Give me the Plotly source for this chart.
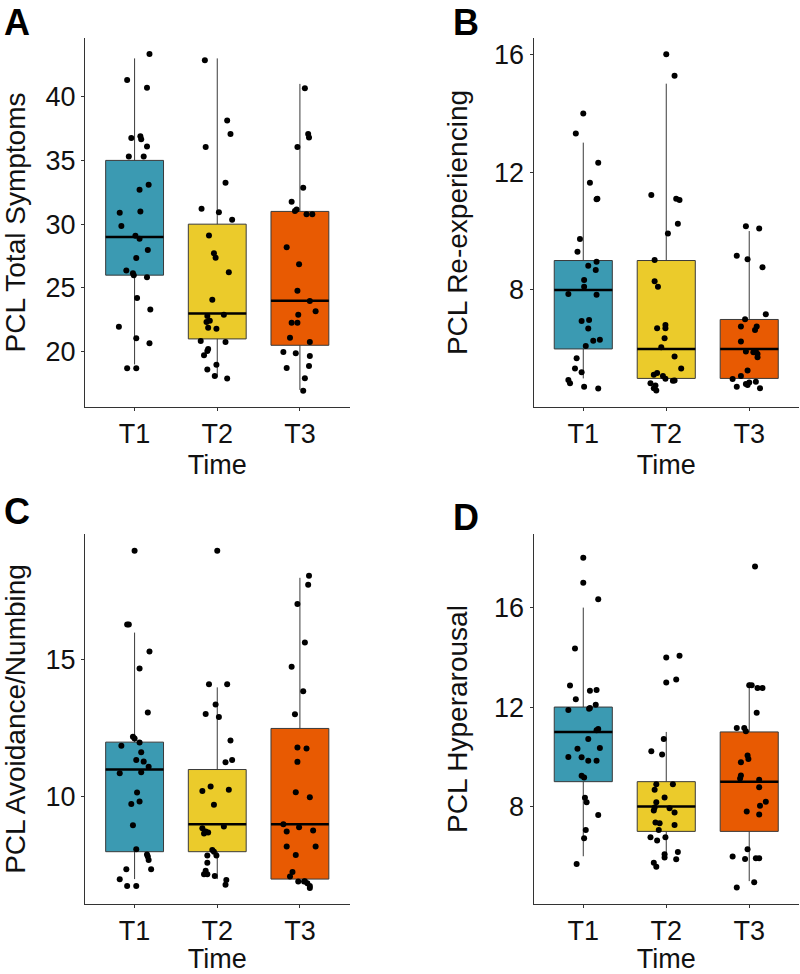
import plotly.graph_objects as go
from plotly.subplots import make_subplots

times = ['T1', 'T2', 'T3']
fills = ['#3B9AB2', '#EBCB2B', '#E85A02']

# panel A - PCL Total Symptoms
a_t1 = [43.35, 41.3, 40.7, 36.76, 36.9, 36.65, 36.1, 35.3, 35.3, 33.1, 32.7, 30.9, 31.0, 29.86, 29.1, 28.86,
        27.97, 27.35, 26.36, 26.14, 26.0, 25.83, 24.2, 23.3, 21.96, 21.05, 20.65, 18.7, 18.7]
a_t1_dx = [0.18, -0.09, 0.15, -0.04, 0.07, 0.08, 0.15, -0.07, 0.11, 0.17, 0.06, -0.18, 0.07, -0.16, 0.01, 0.06,
           0.16, 0.02, -0.10, -0.02, -0.01, 0.15, 0.03, 0.19, -0.19, 0.02, 0.18, -0.09, 0.02]
a_t2 = [42.85, 38.12, 37.07, 36.05, 33.25, 31.2, 30.93, 30.35, 29.12, 27.71, 27.37, 26.22, 24.08, 22.8, 22.43,
        22.33, 22.9, 21.88, 21.8, 20.84, 20.76, 20.2, 19.71, 20.05, 18.98, 18.6, 18.1, 17.9]
a_t2_dx = [-0.15, 0.12, 0.16, -0.14, 0.10, -0.19, 0.02, 0.18, -0.10, -0.04, -0.02, 0.14, -0.06, -0.12, -0.09,
           -0.13, 0.08, -0.11, -0.01, -0.20, 0.10, -0.11, -0.16, -0.12, -0.01, -0.12, -0.03, 0.12]
a_t3 = [40.65, 37.07, 36.8, 36.05, 32.86, 31.76, 31.03, 31.14, 30.77, 30.77, 28.18, 26.85, 24.78, 23.97, 23.16,
        22.9, 22.27, 22.27, 21.1, 20.76, 19.97, 19.87, 19.66, 18.72, 18.88, 17.91, 16.94]
a_t3_dx = [0.06, 0.10, 0.11, -0.03, 0.04, -0.10, -0.06, -0.04, 0.08, 0.15, -0.16, -0.01, -0.03, 0.12, 0.19,
           -0.02, -0.10, -0.03, -0.12, 0.12, -0.20, -0.05, 0.12, -0.16, 0.11, 0.06, 0.04]
a_q1 = [26, 21, 20.5]
a_med = [29, 23, 24]
a_q3 = [35, 30, 31]
a_lo = [19, 18, 17]
a_hi = [43, 43, 41]

# panel B - PCL Re-experiencing
b_t1 = [13.99, 13.31, 12.32, 11.64, 11.08, 11.1, 9.73, 9.3, 8.96, 8.82, 8.68, 8.34, 8.11, 7.86, 7.84, 6.95,
        6.98, 6.69, 6.28, 6.31, 6.1, 5.68, 5.34, 5.21, 4.95, 4.84, 4.72, 4.66]
b_t1_dx = [0.0, -0.09, 0.18, 0.08, 0.16, 0.17, -0.04, -0.07, 0.16, 0.06, 0.15, 0.01, 0.01, -0.18, 0.16, -0.02,
           0.07, 0.06, 0.12, 0.20, 0.03, -0.08, -0.10, -0.02, -0.18, -0.16, 0.01, 0.18]
b_t2 = [16.0, 15.27, 11.22, 11.1, 11.05, 10.25, 9.92, 9.02, 8.3, 8.11, 6.81, 6.7, 6.7, 6.36, 6.06, 5.74, 5.34,
        5.18, 5.12, 5.08, 4.99, 4.93, 4.92, 4.84, 4.67, 4.59, 4.76]
b_t2_dx = [0.0, 0.10, -0.18, 0.12, 0.16, 0.14, 0.02, -0.14, -0.14, -0.10, -0.01, -0.11, -0.01, -0.02, -0.06,
           0.10, 0.18, -0.11, -0.15, -0.04, -0.01, 0.10, 0.08, -0.19, -0.15, -0.12, -0.13]
b_t3 = [10.16, 10.09, 9.16, 9.04, 8.77, 7.18, 7.01, 6.76, 6.76, 6.64, 6.25, 5.91, 5.91, 5.89, 5.83, 5.72, 5.27,
        4.98, 5.08, 4.81, 4.86, 4.89, 4.72, 4.78, 4.67]
b_t3_dx = [-0.04, 0.12, -0.15, -0.02, 0.16, 0.20, -0.05, -0.10, 0.09, 0.07, -0.10, 0.08, -0.04, 0.05, 0.10,
           0.10, -0.02, -0.20, -0.10, -0.04, 0.0, 0.08, -0.15, -0.02, 0.13]
b_q1 = [6, 5, 5]
b_med = [8, 6, 6]
b_q3 = [9, 9, 7]
b_lo = [5, 5, 5]
b_hi = [13, 15, 10]

# panel C - PCL Avoidance/Numbing
c_t1 = [18.99, 16.3, 16.3, 15.31, 14.69, 13.08, 12.2, 12.13, 11.87, 11.99, 11.63, 11.35, 11.29, 11.1, 10.86,
        10.9, 10.16, 9.74, 9.83, 8.97, 8.09, 7.9, 7.7, 7.82, 7.36, 7.36, 6.99, 6.75, 6.75]
c_t1_dx = [0.0, -0.09, -0.07, 0.18, 0.06, 0.16, -0.02, 0.0, -0.16, 0.06, 0.08, 0.02, 0.11, 0.17, -0.18, 0.08,
           0.03, -0.04, 0.06, -0.02, 0.02, 0.15, 0.17, 0.16, -0.10, 0.20, -0.18, -0.09, 0.02]
c_t2 = [18.99, 14.11, 14.11, 13.37, 13.03, 12.92, 12.06, 11.35, 11.27, 10.38, 10.22, 10.26, 9.71, 8.92, 8.86,
        8.74, 8.7, 8.66, 8.06, 8.0, 7.86, 7.86, 7.6, 7.3, 7.18, 7.11, 6.97, 6.79, 7.18]
c_t2_dx = [0.0, -0.10, 0.12, -0.02, -0.14, 0.02, 0.16, 0.18, 0.10, -0.08, -0.18, 0.14, -0.04, 0.08, -0.18,
           -0.14, -0.11, -0.16, -0.06, -0.04, -0.01, -0.12, -0.12, -0.14, -0.12, -0.03, 0.11, 0.10, -0.16]
c_t3 = [18.08, 17.75, 17.04, 15.64, 14.75, 13.86, 13.02, 11.8, 11.77, 11.28, 10.17, 9.99, 9.0, 8.89, 8.74, 8.77,
        8.19, 8.19, 7.88, 7.26, 7.09, 6.91, 6.92, 6.85, 6.75, 6.67, 6.91]
c_t3_dx = [0.11, 0.10, -0.03, 0.06, -0.10, 0.04, -0.06, -0.03, 0.08, -0.03, -0.05, 0.12, -0.20, -0.01, -0.16,
           0.16, -0.16, 0.19, -0.05, -0.09, -0.12, -0.02, 0.06, 0.09, 0.12, 0.12, 0.05]
c_q1 = [8, 8, 7]
c_med = [11, 9, 9]
c_q3 = [12, 11, 12.5]
c_lo = [7, 7, 7]
c_hi = [16, 14, 18]

# panel D - PCL Hyperarousal
d_t1 = [18.0, 17.0, 16.34, 14.36, 12.87, 12.69, 12.66, 12.31, 12.09, 11.88, 11.93, 11.96, 11.12, 11.07, 10.72,
        10.32, 10.35, 9.99, 9.98, 9.84, 9.84, 9.24, 9.17, 8.35, 8.17, 7.66, 7.06, 6.72, 5.69]
d_t1_dx = [0.0, 0.0, 0.18, -0.10, -0.16, 0.16, 0.08, -0.09, 0.15, -0.18, 0.07, 0.08, 0.18, 0.16, 0.06, -0.07,
           0.20, -0.18, -0.02, 0.06, 0.16, -0.02, 0.01, 0.02, 0.04, 0.18, 0.03, 0.01, -0.08]
d_t2 = [13.99, 14.06, 12.99, 13.11, 10.72, 10.22, 10.09, 8.9, 8.9, 8.67, 8.36, 8.17, 7.96, 7.93, 7.76, 7.84,
        7.36, 7.33, 7.26, 7.06, 6.76, 6.76, 6.63, 6.08, 6.17, 5.95, 5.88, 5.74, 5.58]
d_t2_dx = [0.0, 0.16, 0.0, 0.12, -0.03, -0.18, -0.05, -0.12, 0.08, -0.14, -0.02, -0.12, -0.14, 0.04, 0.10,
           -0.15, -0.13, -0.08, 0.10, -0.09, -0.19, -0.01, -0.11, -0.02, 0.14, -0.02, 0.12, -0.15, -0.12]
d_t3 = [17.65, 12.88, 12.88, 12.77, 12.77, 11.77, 11.16, 11.16, 11.03, 10.05, 9.91, 9.78, 9.25, 9.13, 9.08,
        8.78, 8.19, 8.03, 7.68, 7.8, 6.28, 5.99, 5.89, 5.92, 5.92, 4.95, 4.74]
d_t3_dx = [0.07, 0.0, 0.03, 0.10, 0.16, 0.09, -0.15, -0.06, -0.04, -0.02, -0.01, -0.10, -0.10, -0.11, 0.12,
           0.12, 0.20, 0.13, 0.12, -0.03, -0.02, -0.20, -0.05, 0.08, 0.12, 0.06, -0.15]
d_q1 = [9, 7, 7]
d_med = [11, 8, 9]
d_q3 = [12, 9, 11]
d_lo = [6, 6, 5]
d_hi = [16, 11, 13]

panels = [
    dict(row=1, col=1, letter='A', title='PCL Total Symptoms', pts=[a_t1, a_t2, a_t3],
         dx=[a_t1_dx, a_t2_dx, a_t3_dx], q1=a_q1, med=a_med, q3=a_q3, lo=a_lo, hi=a_hi,
         ticks=[20, 25, 30, 35, 40], yrange=[15.66, 44.6]),
    dict(row=1, col=2, letter='B', title='PCL Re-experiencing', pts=[b_t1, b_t2, b_t3],
         dx=[b_t1_dx, b_t2_dx, b_t3_dx], q1=b_q1, med=b_med, q3=b_q3, lo=b_lo, hi=b_hi,
         ticks=[8, 12, 16], yrange=[4.03, 16.55]),
    dict(row=2, col=1, letter='C', title='PCL Avoidance/Numbing', pts=[c_t1, c_t2, c_t3],
         dx=[c_t1_dx, c_t2_dx, c_t3_dx], q1=c_q1, med=c_med, q3=c_q3, lo=c_lo, hi=c_hi,
         ticks=[10, 15], yrange=[6.09, 19.6]),
    dict(row=2, col=2, letter='D', title='PCL Hyperarousal', pts=[d_t1, d_t2, d_t3],
         dx=[d_t1_dx, d_t2_dx, d_t3_dx], q1=d_q1, med=d_med, q3=d_q3, lo=d_lo, hi=d_hi,
         ticks=[8, 12, 16], yrange=[4.08, 18.96]),
]

fig = make_subplots(rows=2, cols=2)

W, H = 800, 974
xdom = {1: [85 / W, 349.5 / W], 2: [533.5 / W, 799 / W]}
ydom = {1: [1 - 407 / H, 1 - 38 / H], 2: [1 - 904 / H, 1 - 534 / H]}
bw = 0.7
font = 'Liberation Sans, Arial, sans-serif'

for p in panels:
    r, c = p['row'], p['col']
    for i in range(3):
        pos = i + 1
        # box + whiskers
        fig.add_trace(go.Box(x=[pos], q1=[p['q1'][i]], median=[p['med'][i]], q3=[p['q3'][i]],
                             lowerfence=[p['lo'][i]], upperfence=[p['hi'][i]],
                             width=bw, whiskerwidth=0, fillcolor=fills[i],
                             line=dict(color='#3a3a3a', width=1), boxpoints=False,
                             hoverinfo='skip', showlegend=False), row=r, col=c)
        # thick median line
        fig.add_trace(go.Scatter(x=[pos - bw / 2, pos + bw / 2], y=[p['med'][i], p['med'][i]],
                                 mode='lines', line=dict(color='black', width=2.5),
                                 hoverinfo='skip', showlegend=False), row=r, col=c)
        # jittered points
        fig.add_trace(go.Scatter(x=[pos + d for d in p['dx'][i]], y=p['pts'][i], mode='markers',
                                 marker=dict(color='black', size=6),
                                 hoverinfo='skip', showlegend=False), row=r, col=c)

    fig.update_xaxes(domain=xdom[c], range=[0.4, 3.6], tickvals=[1, 2, 3], ticktext=times,
                     showline=True, linecolor='#333333', linewidth=1, ticks='outside', ticklen=3,
                     tickcolor='#333333', showgrid=False, zeroline=False,
                     tickfont=dict(size=27, color='#111111', family=font),
                     title=dict(text='Time', font=dict(size=27, color='#111111', family=font), standoff=6),
                     row=r, col=c)
    fig.update_yaxes(domain=ydom[r], range=p['yrange'], tickvals=p['ticks'],
                     showline=True, linecolor='#333333', linewidth=1, ticks='outside', ticklen=3,
                     tickcolor='#333333', showgrid=False, zeroline=False,
                     tickfont=dict(size=27, color='#111111', family=font),
                     title=dict(text=p['title'], font=dict(size=28, color='#111111', family=font), standoff=18),
                     row=r, col=c)

# panel letters
letter_pos = {'A': (2, 0), 'B': (451, 0), 'C': (2, 489), 'D': (451, 495)}
for p in panels:
    x0, y0 = letter_pos[p['letter']]
    fig.add_annotation(x=x0 / W, y=1 - y0 / H, xref='paper', yref='paper', xanchor='left', yanchor='top',
                       text='<b>' + p['letter'] + '</b>', showarrow=False,
                       font=dict(size=36, color='black', family=font))

fig.update_layout(width=W, height=H, margin=dict(l=0, r=0, t=0, b=0),
                  plot_bgcolor='white', paper_bgcolor='white')

fig.write_html("out.html", config={'displayModeBar': False},
               post_script="document.body.style.margin='0px';")
